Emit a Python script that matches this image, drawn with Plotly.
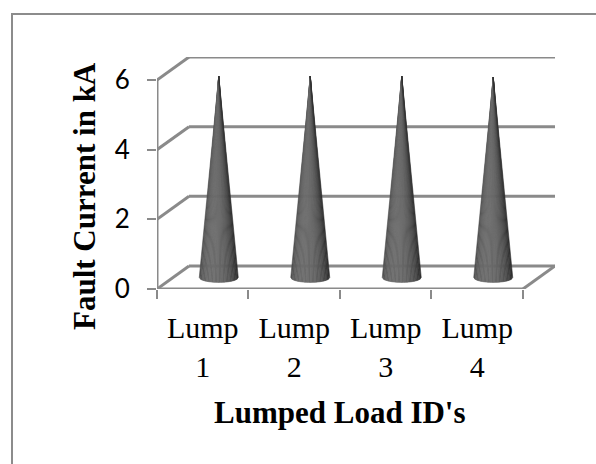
import numpy as np
import plotly.graph_objects as go

# ---- data ----
categories = ["Lump<br>1", "Lump<br>2", "Lump<br>3", "Lump<br>4"]
fault_current = [5.78, 5.78, 5.78, 5.75]
y_ticks = [0, 2, 4, 6]
x_title = "Lumped Load ID's"
y_title = "Fault Current in kA"

# ---- style / geometry constants ----
DX, DY = 0.35, 0.66          # depth offset (x units, value units)
R = 0.213                    # cone base radius (x units)
E = 0.14                     # base ellipse half-height (value units)
GRID = "#8a8a8a"
N_SLICES = 28

n = len(categories)
xc = [i + 0.5 + DX / 2 for i in range(n)]
yb = DY / 2

fig = go.Figure()

# cones built from slices for shading
s_vals = np.linspace(-1, 1, N_SLICES + 1)
a = 0.3
for k in range(N_SLICES):
    s0, s1 = s_vals[k], s_vals[k + 1]
    sm = (s0 + s1) / 2
    nz = np.sqrt(max(0.0, 1 - sm * sm))
    inten = max(0.0, nz * np.cos(a) - sm * np.sin(a))
    b = int(48 + 60 * inten)
    col = f"rgb({b},{b},{b})"
    xs, ys = [], []
    for c, v in zip(xc, fault_current):
        xs += [c, c + R * s0, c + R * s1, c, None]
        ys += [yb + v, yb - E * np.sqrt(1 - s0 ** 2), yb - E * np.sqrt(1 - s1 ** 2), yb + v, None]
    fig.add_trace(go.Scatter(x=xs, y=ys, mode="lines", fill="toself",
                             fillcolor=col, line=dict(color=col, width=0.6),
                             hoverinfo="skip", showlegend=False))

shapes = []
for t in y_ticks:
    shapes.append(dict(type="line", xref="x", yref="y", x0=DX, x1=n + DX,
                       y0=t + DY, y1=t + DY, line=dict(color=GRID, width=3), layer="below"))
    shapes.append(dict(type="line", xref="x", yref="y", x0=0, x1=DX,
                       y0=t, y1=t + DY, line=dict(color=GRID, width=3), layer="below"))
shapes.append(dict(type="line", xref="x", yref="y", x0=0, x1=n, y0=0, y1=0,
                   line=dict(color=GRID, width=3), layer="below"))
shapes.append(dict(type="line", xref="x", yref="y", x0=n, x1=n + DX, y0=0, y1=DY,
                   line=dict(color=GRID, width=3), layer="below"))
shapes.append(dict(type="line", xref="x", yref="y", x0=0, x1=0, y0=0, y1=max(y_ticks),
                   line=dict(color=GRID, width=3), layer="below"))

L, T, W, H = 157, 57, 398, 232
def px(xp): return (xp - L) / W
def py(yp): return (T + H - yp) / H
shapes.append(dict(type="line", xref="paper", yref="paper", x0=px(12), x1=px(12),
                   y0=py(14), y1=py(470), line=dict(color="#8c8c8c", width=2)))
shapes.append(dict(type="line", xref="paper", yref="paper", x0=px(11), x1=px(600),
                   y0=py(14), y1=py(14), line=dict(color="#8c8c8c", width=2)))

annotations = [
    dict(text=f"<b>{x_title}</b>", xref="paper", yref="paper", x=px(340), y=py(413),
         showarrow=False, font=dict(family="Liberation Serif", size=31, color="black"),
         xanchor="center", yanchor="middle"),
    dict(text=f"<b>{y_title}</b>", xref="paper", yref="paper", x=px(84), y=py(196),
         showarrow=False, textangle=-90,
         font=dict(family="Liberation Serif", size=31, color="black"),
         xanchor="center", yanchor="middle"),
]

fig.update_layout(
    width=596, height=464,
    margin=dict(l=L, r=596 - L - W, t=T, b=464 - T - H, autoexpand=False),
    paper_bgcolor="white", plot_bgcolor="white",
    shapes=shapes, annotations=annotations,
    xaxis=dict(range=[0, n + DX], tickvals=[i + 0.5 for i in range(n)], ticktext=categories,
               ticks="", showgrid=False, zeroline=False, showline=False,
               tickfont=dict(family="Liberation Serif", size=30, color="black"),
               ticklabelstandoff=18),
    xaxis2=dict(overlaying="x", matches="x", side="bottom", anchor="y",
                tickvals=list(range(n + 1)), ticks="outside", ticklen=9, tickwidth=2,
                tickcolor=GRID, showticklabels=False, showgrid=False, zeroline=False,
                showline=False),
    yaxis=dict(range=[0, max(y_ticks) + DY], tickvals=y_ticks, ticks="outside", ticklen=9,
               tickwidth=2, tickcolor=GRID, showgrid=False, zeroline=False, showline=False,
               tickfont=dict(family="Lato", size=26, color="black"), ticklabelstandoff=12),
)
fig.add_trace(go.Scatter(x=[0], y=[0], xaxis="x2", mode="markers", marker=dict(opacity=0),
                         hoverinfo="skip", showlegend=False))

fig.write_html("out.html")
